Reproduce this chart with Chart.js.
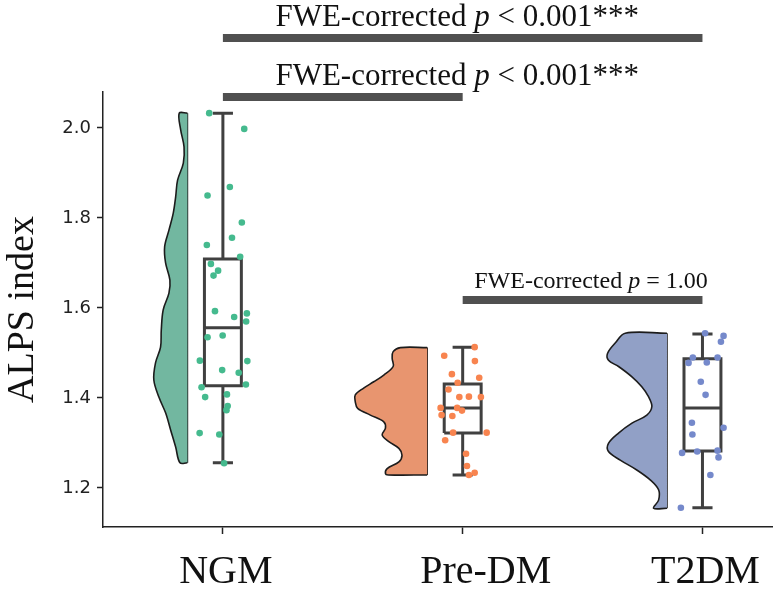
<!DOCTYPE html>
<html>
<head>
<meta charset="utf-8">
<script src="https://cdn.jsdelivr.net/npm/chart.js@4.4.0/dist/chart.umd.min.js"></script>
<style>
  html, body { margin: 0; padding: 0; background: #fff; }
  #wrap { width: 780px; height: 589px; }
</style>
</head>
<body>
<div id="wrap"><canvas id="chart" width="780" height="589"></canvas></div>
<script>
var groups = ['NGM', 'Pre-DM', 'T2DM'];
var yTickValues = [1.2, 1.4, 1.6, 1.8, 2.0];

// ALPS index per subject, with the horizontal jitter seen in the figure
var ngmValues = [2.033, 1.998, 1.869, 1.850, 1.790, 1.756, 1.740, 1.714, 1.698, 1.683, 1.672, 1.593, 1.580, 1.588, 1.570,
  1.535, 1.539, 1.483, 1.462, 1.456, 1.482, 1.424, 1.430, 1.402, 1.408, 1.382, 1.373, 1.322, 1.319, 1.255];
var ngmJitter = [-0.057, 0.089, 0.029, -0.064, 0.079, 0.038, -0.067, 0.072, -0.050, -0.020, -0.039, -0.033, 0.047, 0.100, 0.097,
  -0.064, -0.001, -0.096, -0.003, 0.066, 0.102, -0.089, 0.096, -0.074, 0.017, 0.020, 0.015, -0.097, -0.015, 0.005];

var preValues = [1.513, 1.494, 1.482, 1.453, 1.445, 1.434, 1.419, 1.402, 1.403, 1.402, 1.378, 1.378, 1.372, 1.362, 1.360,
  1.323, 1.323, 1.306, 1.276, 1.249, 1.229, 1.234];
var preJitter = [0.050, -0.077, 0.051, -0.045, 0.069, -0.021, -0.059, -0.014, 0.026, 0.076, -0.092, -0.023, -0.003, -0.088, -0.043,
  -0.040, 0.100, -0.073, 0.014, 0.018, 0.026, 0.050];

var t2dmValues = [1.544, 1.538, 1.525, 1.490, 1.478, 1.479, 1.490, 1.436, 1.407, 1.345, 1.334, 1.319, 1.278, 1.281, 1.283,
  1.268, 1.229, 1.156];
var t2dmJitter = [0.011, 0.088, 0.077, -0.040, -0.058, 0.018, 0.063, -0.007, 0.013, -0.044, 0.088, -0.042, -0.085, -0.022, 0.063,
  0.067, 0.033, -0.090];

// box stats: [lower whisker, Q1, median, Q3, upper whisker]
var ngmBox = [1.256, 1.427, 1.556, 1.709, 2.033];
var preBox = [1.229, 1.322, 1.378, 1.431, 1.513];
var t2dmBox = [1.156, 1.282, 1.378, 1.487, 1.542];

// half violin outlines: level and density width (in category units)
var ngmViolinLevel = [2.033, 1.996, 1.958, 1.922, 1.884, 1.847, 1.811, 1.773, 1.736, 1.700, 1.662, 1.633, 1.596, 1.551,
  1.513, 1.478, 1.440, 1.402, 1.367, 1.329, 1.291, 1.256];
var ngmViolinWidth = [0.034, 0.028, 0.014, 0.017, 0.041, 0.049, 0.059, 0.077, 0.095, 0.091, 0.073, 0.077, 0.101, 0.109,
  0.112, 0.133, 0.140, 0.119, 0.091, 0.070, 0.049, 0.031];

var preViolinLevel = [1.512, 1.503, 1.488, 1.470, 1.451, 1.436, 1.422, 1.407, 1.392, 1.377, 1.362, 1.347, 1.333, 1.318,
  1.303, 1.288, 1.273, 1.258, 1.243, 1.232, 1.229];
var preViolinWidth = [0.112, 0.142, 0.146, 0.142, 0.181, 0.223, 0.265, 0.300, 0.300, 0.290, 0.237, 0.181, 0.174, 0.188,
  0.160, 0.118, 0.105, 0.118, 0.167, 0.174, 0.162];

var t2dmViolinLevel = [1.544, 1.522, 1.499, 1.484, 1.470, 1.447, 1.425, 1.403, 1.381, 1.362, 1.344, 1.322, 1.299, 1.281,
  1.262, 1.240, 1.218, 1.196, 1.173, 1.155];
var t2dmViolinWidth = [0.174, 0.216, 0.248, 0.244, 0.202, 0.146, 0.105, 0.077, 0.063, 0.084, 0.146, 0.202, 0.244, 0.244,
  0.195, 0.126, 0.070, 0.035, 0.035, 0.056];

// pairwise comparisons
var sigFrom = [0, 0, 1];
var sigTo = [2, 1, 2];
var sigLevel = [2.2, 2.069, 1.618];
var sigRelation = ['<', '<', '='];
var sigP = ['0.001***', '0.001***', '1.00'];

// label placement (layout only)
var sigLabelX = [0.977, 0.977, 1.535];
var sigLabelSize = [31, 31, 24];
var groupLabelShift = [3, 23, 3];

var violinColors = ['#72b7a0', '#e8956f', '#91a0c6'];
var pointColors = ['#45ba8e', '#f8844f', '#7589cb'];
var lineGrey = '#404040';

var allValues = [ngmValues, preValues, t2dmValues];
var allJitter = [ngmJitter, preJitter, t2dmJitter];
var allBoxes = [ngmBox, preBox, t2dmBox];
var allLevels = [ngmViolinLevel, preViolinLevel, t2dmViolinLevel];
var allWidths = [ngmViolinWidth, preViolinWidth, t2dmViolinWidth];

var violinOffset = -0.148;
var boxHalf = 0.077;
var capHalf = 0.042;

var datasets = [];

groups.forEach(function (g, i) {
  // violin half on the left
  var base = i + violinOffset;
  var lv = allLevels[i], wd = allWidths[i];
  var shape = [{ x: base, y: lv[0] }];
  for (var k = 0; k < lv.length; k++) shape.push({ x: base - wd[k], y: lv[k] });
  shape.push({ x: base, y: lv[lv.length - 1] });
  datasets.push({
    type: 'line', label: g + ' violin', data: shape, order: 5,
    borderColor: '#1c1c1c', borderWidth: 1.6, backgroundColor: violinColors[i],
    fill: 'shape', tension: 0.35, pointRadius: 0
  });
  datasets.push({
    type: 'line', label: g + ' edge', order: 5,
    data: [{ x: base, y: lv[0] }, { x: base, y: lv[lv.length - 1] }],
    borderColor: '#1c1c1c', borderWidth: 1.6, pointRadius: 0, fill: false
  });

  // box and whiskers
  var b = allBoxes[i];
  var gap = { x: i, y: null };
  var boxPath = [
    { x: i - boxHalf, y: b[1] }, { x: i + boxHalf, y: b[1] }, { x: i + boxHalf, y: b[3] }, { x: i - boxHalf, y: b[3] }, { x: i - boxHalf, y: b[1] }, gap,
    { x: i - boxHalf, y: b[2] }, { x: i + boxHalf, y: b[2] }, gap,
    { x: i, y: b[3] }, { x: i, y: b[4] }, gap,
    { x: i - capHalf, y: b[4] }, { x: i + capHalf, y: b[4] }, gap,
    { x: i, y: b[1] }, { x: i, y: b[0] }, gap,
    { x: i - capHalf, y: b[0] }, { x: i + capHalf, y: b[0] }
  ];
  datasets.push({
    type: 'line', label: g + ' box', data: boxPath, order: 4,
    borderColor: lineGrey, borderWidth: 3, borderJoinStyle: 'miter', borderCapStyle: 'butt',
    spanGaps: false, tension: 0, pointRadius: 0, fill: false
  });

  // raw points
  datasets.push({
    type: 'scatter', label: g, order: 3,
    data: allValues[i].map(function (v, k) { return { x: i + allJitter[i][k], y: v }; }),
    backgroundColor: pointColors[i], borderWidth: 0, pointRadius: 3.3
  });
});

sigLevel.forEach(function (lvl, s) {
  datasets.push({
    type: 'line', label: 'sig ' + s, order: 1, clip: false,
    data: [{ x: sigFrom[s], y: lvl }, { x: sigTo[s], y: lvl }],
    borderColor: '#505050', borderWidth: 8, borderCapStyle: 'butt', pointRadius: 0, fill: false
  });
});

var textPlugin = {
  id: 'texts',
  afterDraw: function (chart) {
    var ctx = chart.ctx, xs = chart.scales.x, ys = chart.scales.y;
    ctx.save();
    ctx.fillStyle = '#111';
    ctx.textBaseline = 'alphabetic';

    // significance labels
    sigLevel.forEach(function (lvl, s) {
      var size = sigLabelSize[s];
      var parts = [
        ['FWE-corrected ', ''],
        ['p', 'italic '],
        [' ' + sigRelation[s] + ' ' + sigP[s], '']
      ];
      var total = 0;
      parts.forEach(function (p) {
        ctx.font = p[1] + size + 'px "Liberation Serif"';
        p.push(ctx.measureText(p[0]).width);
        total += p[2];
      });
      var x = xs.getPixelForValue(sigLabelX[s]) - total / 2;
      var y = ys.getPixelForValue(lvl) - 12;
      parts.forEach(function (p) {
        ctx.font = p[1] + size + 'px "Liberation Serif"';
        ctx.fillText(p[0], x, y);
        x += p[2];
      });
    });

    // group names under the x axis
    ctx.font = '40px "Liberation Serif"';
    ctx.textAlign = 'center';
    groups.forEach(function (g, i) {
      ctx.fillText(g, xs.getPixelForValue(i) + groupLabelShift[i], ys.bottom + 56);
    });
    ctx.restore();
  }
};

new Chart(document.getElementById('chart'), {
  type: 'scatter',
  data: { datasets: datasets },
  plugins: [textPlugin],
  options: {
    responsive: false,
    animation: false,
    layout: { padding: { top: 92, right: 8, left: 0, bottom: 0 } },
    plugins: { legend: { display: false }, tooltip: { enabled: false } },
    scales: {
      x: {
        type: 'linear', min: -0.5, max: 2.29,
        afterBuildTicks: function (scale) { scale.ticks = [0, 1, 2].map(function (v) { return { value: v }; }); },
        afterFit: function (scale) { scale.height = 62; },
        ticks: { display: false },
        grid: { drawOnChartArea: false, tickLength: 7, tickColor: '#222', tickWidth: 1.5 },
        border: { color: '#222', width: 1.5 }
      },
      y: {
        type: 'linear', min: 1.1133, max: 2.08,
        afterBuildTicks: function (scale) { scale.ticks = yTickValues.map(function (v) { return { value: v }; }); },
        afterFit: function (scale) { scale.width = 103; },
        ticks: {
          padding: 6, color: '#222',
          font: { family: 'DejaVu Sans', size: 18 },
          callback: function (v) { return v.toFixed(1); }
        },
        title: {
          display: true, text: 'ALPS index', color: '#111',
          font: { family: 'Liberation Serif', size: 38 },
          padding: { top: 0, bottom: 0 }
        },
        grid: { drawOnChartArea: false, tickLength: 6, tickColor: '#222', tickWidth: 1.5 },
        border: { color: '#222', width: 1.5 }
      }
    }
  }
});
</script>
</body>
</html>
